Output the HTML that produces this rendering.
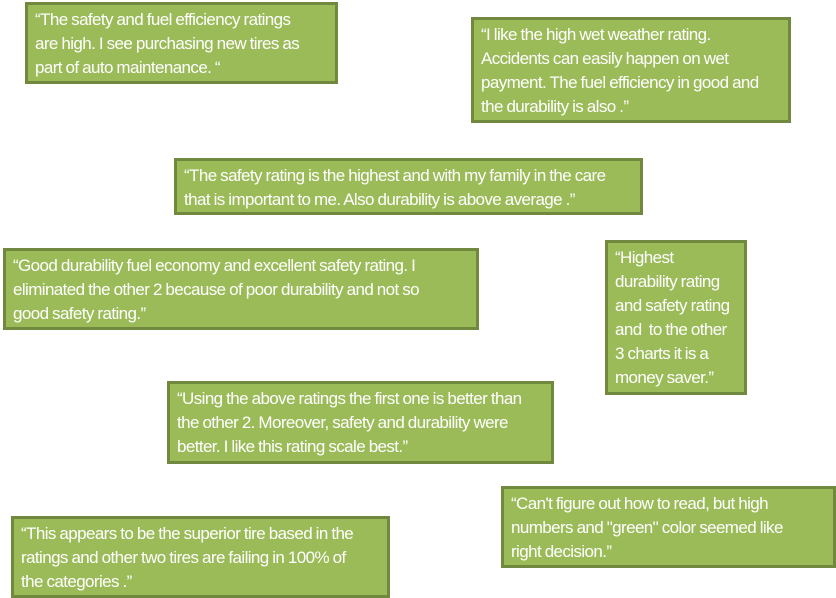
<!DOCTYPE html>
<html><head><meta charset="utf-8"><style>
body{margin:0;width:836px;height:598px;background:#fff;position:relative;overflow:hidden}
.b{position:absolute;box-sizing:border-box;background:#9bbb59;border:3px solid #71893e;color:#fff;
font-family:"Liberation Sans Narrow","Liberation Sans",sans-serif;font-size:17px;line-height:24px;
padding:3px 0 0 7px;white-space:nowrap;letter-spacing:-0.6px;word-spacing:-0.5px}
</style></head><body>
<div class="b" style="left:25px;top:2px;width:313px;height:82px">“The safety and fuel efficiency ratings<br>are high. I see purchasing new tires as<br>part of auto maintenance. “</div>
<div class="b" style="left:471px;top:17px;width:320px;height:106px">“I like the high wet weather rating.<br>Accidents can easily happen on wet<br>payment. The fuel efficiency in good and<br>the durability is also .”</div>
<div class="b" style="left:174px;top:158px;width:469px;height:57px">“The safety rating is the highest and with my family in the care<br>that is important to me. Also durability is above average .”</div>
<div class="b" style="left:3px;top:248px;width:476px;height:82px">“Good durability fuel economy and excellent safety rating. I<br>eliminated the other 2 because of poor durability and not so<br>good safety rating.”</div>
<div class="b" style="left:605px;top:240px;width:142px;height:155px">“Highest<br>durability rating<br>and safety rating<br>and&nbsp; to the other<br>3 charts it is a<br>money saver.”</div>
<div class="b" style="left:167px;top:381px;width:387px;height:83px">“Using the above ratings the first one is better than<br>the other 2. Moreover, safety and durability were<br>better. I like this rating scale best.”</div>
<div class="b" style="left:501px;top:486px;width:335px;height:82px">“Can't figure out how to read, but high<br>numbers and "green" color seemed like<br>right decision.”</div>
<div class="b" style="left:11px;top:516px;width:379px;height:82px">“This appears to be the superior tire based in the<br>ratings and other two tires are failing in 100% of<br>the categories .”</div>
</body></html>
